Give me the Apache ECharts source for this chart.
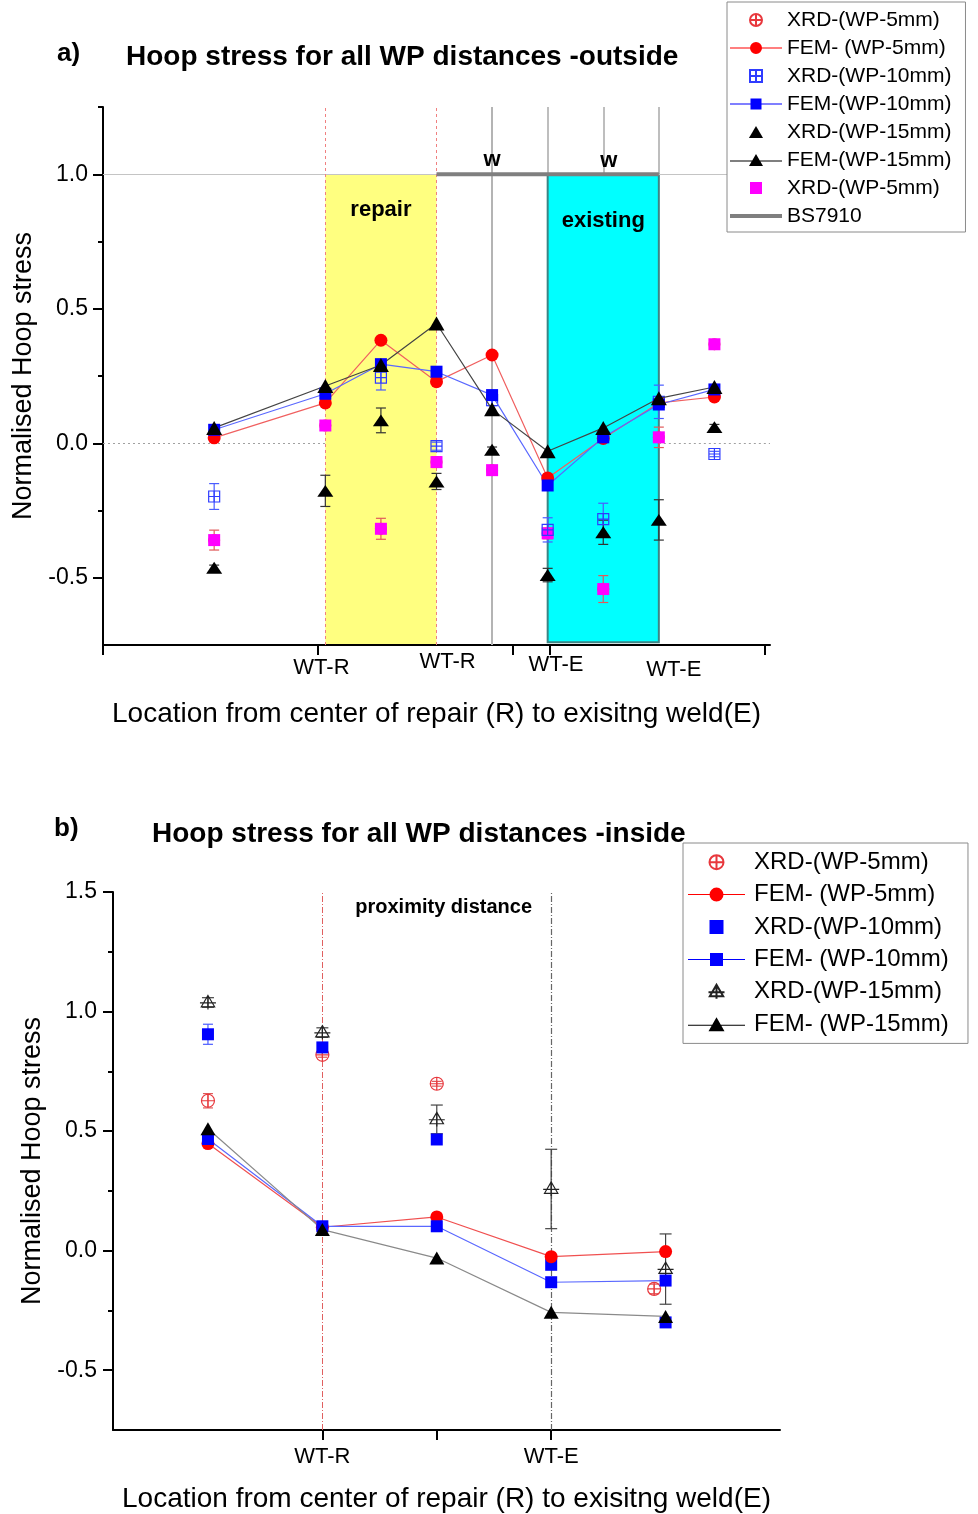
<!DOCTYPE html>
<html><head><meta charset="utf-8">
<script src="https://cdn.jsdelivr.net/npm/echarts@6/dist/echarts.min.js"></script>
<style>html,body{margin:0;padding:0;background:#fff}#c{width:978px;height:1514px}</style>
</head><body><div id="c"></div>
<script>
// ---------- data: panel a (outside) ----------
const topX = [0, 2, 3, 4, 5, 6, 7, 8, 9];
const topFem5  = [0.020, 0.150, 0.383, 0.229, 0.328, -0.129, 0.018, 0.150, 0.172];
const topFem10 = [0.050, 0.184, 0.294, 0.266, 0.179, -0.157, 0.022, 0.144, 0.200];
const topFem15 = [0.057, 0.213, 0.291, 0.445, 0.126, -0.030, 0.057, 0.167, 0.209];
const topXrd5    = [-0.360, 0.066, -0.318, -0.070, -0.100, -0.335, -0.542, 0.022, 0.368];
const topXrd5Err = [0.037, 0.010, 0.039, 0.020, 0.010, 0.020, 0.050, 0.038, 0.015];
const topXrd10    = [-0.198, null, 0.244, -0.011, 0.160, -0.322, -0.282, 0.154, -0.040];
const topXrd10Err = [0.048, null, 0.046, 0.015, 0.020, 0.045, 0.059, 0.062, 0.010];
const topXrd15    = [-0.463, -0.177, 0.085, -0.142, -0.024, -0.490, -0.331, -0.285, 0.060];
const topXrd15Err = [0.010, 0.058, 0.046, 0.030, 0.010, 0.025, 0.045, 0.075, 0.010];
const bs7910X = [4, 8];
const bs7910Y = [1.0, 1.0];
const topTickPos = [-2, 1.87, 5.38, 6.03, 9.9];
const topLabelPos = [1.93, 4.2, 6.15, 8.27];
const topTickLabels = ['WT-R', 'WT-R', 'WT-E', 'WT-E'];
const topYMajor = [-0.5, 0, 0.5, 1.0];
const topYMinor = [-0.25, 0.25, 0.75, 1.25];

// ---------- data: panel b (inside) ----------
const botX = [1, 2, 3, 4, 5];
const botXrdX5 = [1, 2, 3, 4, 4.9];
const botFem5  = [0.448, 0.098, 0.141, -0.025, -0.004];
const botFem10 = [0.467, 0.102, 0.102, -0.132, -0.125];
const botFem15 = [0.510, 0.088, -0.031, -0.258, -0.275];
const botXrd5     = [0.627, 0.819, 0.698, null, -0.160];
const botXrd5Err  = [0.030, 0.010, 0.010, null, 0.020];
const botXrd10    = [0.905, 0.850, 0.465, -0.059, -0.300];
const botXrd10Err = [0.042, 0.015, 0.020, 0.020, 0.010];
const botXrd15    = [1.038, 0.912, 0.549, 0.258, -0.077];
const botXrd15Err = [0.020, 0.020, 0.060, 0.166, 0.147];
const botTickPos = [2, 3, 4];
const botLabelPos = [2, 4];
const botTickLabels = ['WT-R', 'WT-E'];
const botYMajor = [-0.5, 0, 0.5, 1.0, 1.5];
const botYMinor = [-0.25, 0.25, 0.75, 1.25];

// ---------- helpers ----------
const FONT = 'Liberation Sans, Arial, sans-serif';
const SYM_CIRCLE_CROSS = 'path://M10,0 A10,10 0 0,1 10,20 A10,10 0 0,1 10,0 Z M0,10 L20,10 M10,0 L10,20';
const SYM_SQ_GRID = 'path://M0,0 L20,0 L20,20 L0,20 Z M0,10 L20,10 M10,0 L10,20';
const SYM_TRI_CROSS = 'path://M10,0 L20,17 L0,17 Z M-2,11 L22,11 M10,0 L10,21';
const SYM_TRI = 'path://M10,0 L20,17 L0,17 Z';
const SYM_RECT = 'path://M0,0 L20,0 L20,20 L0,20 Z';
// legend icons (line + marker), top legend box 52x12, bottom 57x14
const ICON_T_CIRC = 'path://M0,5.5 H52 V6.5 H0 Z M26,0 A6,6 0 1,1 26,12 A6,6 0 1,1 26,0 Z';
const ICON_T_SQ = 'path://M0,5.5 H52 V6.5 H0 Z M20.5,0.5 H31.5 V11.5 H20.5 Z';
const ICON_T_TRI = 'path://M0,6.5 H52 V7.5 H0 Z M26,0 L33,12 L19,12 Z';
const ICON_T_BS = 'path://M0,0 H52 V4 H0 Z';
const ICON_B_CIRC = 'path://M0,6.5 H57 V7.5 H0 Z M28.5,0 A7,7 0 1,1 28.5,14 A7,7 0 1,1 28.5,0 Z';
const ICON_B_SQ = 'path://M0,6.5 H57 V7.5 H0 Z M22,0.5 H35 V13.5 H22 Z';
const ICON_B_TRI = 'path://M0,7.5 H57 V8.5 H0 Z M28.5,0 L36.5,14 L20.5,14 Z';

function pts(xs, ys) { return xs.map((x, i) => ys[i] == null ? null : [x, ys[i]]).filter(Boolean); }
function errPts(xs, ys, es) { return xs.map((x, i) => (ys[i] == null || es[i] == null) ? null : [x, ys[i] - es[i], ys[i] + es[i]]).filter(Boolean); }
function errSeries(name, xi, yi, data, color, cap) {
  return {
    name: name, type: 'custom', xAxisIndex: xi, yAxisIndex: yi, silent: true, z: 2,
    encode: { x: 0, y: [1, 2] }, data: data,
    renderItem: function (params, api) {
      const x = api.value(0);
      const a = api.coord([x, api.value(1)]);
      const b = api.coord([x, api.value(2)]);
      const st = { stroke: color, lineWidth: 1.2 };
      return { type: 'group', children: [
        { type: 'line', shape: { x1: a[0], y1: a[1], x2: b[0], y2: b[1] }, style: st },
        { type: 'line', shape: { x1: a[0] - cap, y1: a[1], x2: a[0] + cap, y2: a[1] }, style: st },
        { type: 'line', shape: { x1: b[0] - cap, y1: b[1], x2: b[0] + cap, y2: b[1] }, style: st }
      ] };
    }
  };
}
const noLab = { show: false };
const S2 = '  '; // suffix to keep panel-b legend names distinct

const N = {
  tXrd5: 'XRD-(WP-5mm)', tFem5: 'FEM- (WP-5mm)', tXrd10: 'XRD-(WP-10mm)', tFem10: 'FEM-(WP-10mm)',
  tXrd15: 'XRD-(WP-15mm)', tFem15: 'FEM-(WP-15mm)', tXrd5m: 'XRD-(WP-5mm) ', tBs: 'BS7910',
  bXrd5: 'XRD-(WP-5mm)' + S2, bFem5: 'FEM- (WP-5mm)' + S2, bXrd10: 'XRD-(WP-10mm)' + S2,
  bFem10: 'FEM- (WP-10mm)' + S2, bXrd15: 'XRD-(WP-15mm)' + S2, bFem15: 'FEM- (WP-15mm)' + S2
};

const labelRich = {
  a: { fontSize: 22, fontFamily: FONT, color: '#000', padding: [6, 0, 0, 0] },
  b: { fontSize: 22, fontFamily: FONT, color: '#000', padding: [0, 0, 0, 0] },
  c: { fontSize: 22, fontFamily: FONT, color: '#000', padding: [3, 0, 0, 0] },
  d: { fontSize: 22, fontFamily: FONT, color: '#000', padding: [8, 0, 0, 0] }
};
const richKeys = ['a', 'b', 'c', 'd'];

const axisBlack = { show: true, onZero: false, lineStyle: { color: '#000', width: 2 } };

const option = {
  animation: false,
  backgroundColor: '#fff',
  textStyle: { fontFamily: FONT },
  title: [
    { text: 'a)', left: 57, top: 41, padding: 0, textStyle: { fontSize: 26, fontWeight: 'bold', color: '#000', fontFamily: FONT } },
    { text: 'Hoop stress for all WP distances -outside', left: 126, top: 43, padding: 0, textStyle: { fontSize: 28, fontWeight: 'bold', color: '#000', fontFamily: FONT } },
    { text: 'b)', left: 54, top: 816, padding: 0, textStyle: { fontSize: 26, fontWeight: 'bold', color: '#000', fontFamily: FONT } },
    { text: 'Hoop stress for all WP distances -inside', left: 152, top: 820, padding: 0, textStyle: { fontSize: 28, fontWeight: 'bold', color: '#000', fontFamily: FONT } }
  ],
  legend: [
    {
      orient: 'vertical', left: 727, top: 2, padding: [4, 14, 2, 3], itemGap: 0,
      itemWidth: 52, itemHeight: 12, symbolKeepAspect: true,
      borderColor: '#8a8a8a', borderWidth: 1, backgroundColor: '#fff', selectedMode: false,
      textStyle: { fontSize: 21, lineHeight: 28, color: '#000', fontFamily: FONT },
      data: [
        { name: N.tXrd5 }, { name: N.tFem5, icon: ICON_T_CIRC },
        { name: N.tXrd10 }, { name: N.tFem10, icon: ICON_T_SQ },
        { name: N.tXrd15 }, { name: N.tFem15, icon: ICON_T_TRI },
        { name: N.tXrd5m }, { name: N.tBs, icon: ICON_T_BS }
      ]
    },
    {
      orient: 'vertical', left: 683, top: 843, padding: [3, 6, 3, 5], itemGap: 0,
      itemWidth: 57, itemHeight: 14, symbolKeepAspect: true,
      borderColor: '#8a8a8a', borderWidth: 1, backgroundColor: '#fff', selectedMode: false,
      textStyle: { fontSize: 24, lineHeight: 32.4, color: '#000', fontFamily: FONT, padding: [0, 0, 0, 4] },
      data: [
        { name: N.bXrd5 }, { name: N.bFem5, icon: ICON_B_CIRC },
        { name: N.bXrd10 }, { name: N.bFem10, icon: ICON_B_SQ },
        { name: N.bXrd15 }, { name: N.bFem15, icon: ICON_B_TRI }
      ]
    }
  ],
  grid: [
    { left: 103, right: 208, top: 107, bottom: 869 },
    { left: 113, right: 198, top: 892, bottom: 84 }
  ],
  xAxis: [
    {
      type: 'value', gridIndex: 0, min: -2, max: 10,
      axisLine: axisBlack, splitLine: { show: false },
      axisTick: { show: true, customValues: topTickPos, length: 10, lineStyle: { color: '#000', width: 2 } },
      axisLabel: { show: true, customValues: topLabelPos, margin: 6, verticalAlign: 'top',
        formatter: function (v) { const i = topLabelPos.indexOf(v); return '{' + richKeys[i] + '|' + topTickLabels[i] + '}'; },
        rich: labelRich },
      name: 'Location from center of repair (R) to exisitng weld(E)', nameLocation: 'middle', nameGap: 55,
      nameTextStyle: { fontSize: 28, color: '#000', fontFamily: FONT, verticalAlign: 'top' }
    },
    {
      type: 'value', gridIndex: 1, min: 0.17, max: 6,
      axisLine: axisBlack, splitLine: { show: false },
      axisTick: { show: true, customValues: botTickPos, length: 10, lineStyle: { color: '#000', width: 2 } },
      axisLabel: { show: true, customValues: botLabelPos, margin: 16, fontSize: 22, color: '#000',
        formatter: function (v) { return botTickLabels[botLabelPos.indexOf(v)]; } },
      name: 'Location from center of repair (R) to exisitng weld(E)', nameLocation: 'middle', nameGap: 55,
      nameTextStyle: { fontSize: 28, color: '#000', fontFamily: FONT, verticalAlign: 'top' }
    }
  ],
  yAxis: [
    {
      type: 'value', gridIndex: 0, position: 'left', min: -0.75, max: 1.25,
      axisLine: axisBlack, splitLine: { show: false },
      axisTick: { show: true, customValues: topYMajor, length: 10, lineStyle: { color: '#000', width: 2 } },
      axisLabel: { show: true, customValues: topYMajor, margin: 15, fontSize: 23, color: '#000', formatter: v => v.toFixed(1) },
      name: 'Normalised Hoop stress', nameLocation: 'middle', nameGap: 66, nameRotate: 90,
      nameTextStyle: { fontSize: 27, color: '#000', fontFamily: FONT }
    },
    {
      type: 'value', gridIndex: 0, position: 'left', offset: 0, min: -0.75, max: 1.25,
      axisLine: { show: false, onZero: false }, splitLine: { show: false },
      axisTick: { show: true, customValues: topYMinor, length: 5, lineStyle: { color: '#000', width: 2 } },
      axisLabel: { show: false }
    },
    {
      type: 'value', gridIndex: 1, position: 'left', min: -0.75, max: 1.5,
      axisLine: axisBlack, splitLine: { show: false },
      axisTick: { show: true, customValues: botYMajor, length: 10, lineStyle: { color: '#000', width: 2 } },
      axisLabel: { show: true, customValues: botYMajor, margin: 16, fontSize: 23, color: '#000', formatter: v => v.toFixed(1) },
      name: 'Normalised Hoop stress', nameLocation: 'middle', nameGap: 64, nameRotate: 90,
      nameTextStyle: { fontSize: 27, color: '#000', fontFamily: FONT }
    },
    {
      type: 'value', gridIndex: 1, position: 'left', offset: 0, min: -0.75, max: 1.5,
      axisLine: { show: false, onZero: false }, splitLine: { show: false },
      axisTick: { show: true, customValues: botYMinor, length: 5, lineStyle: { color: '#000', width: 2 } },
      axisLabel: { show: false }
    }
  ],
  series: [
    // ---- panel a ----
    {
      name: N.tBs, type: 'line', xAxisIndex: 0, yAxisIndex: 0, z: 3,
      data: pts(bs7910X, bs7910Y), symbol: 'none',
      lineStyle: { color: '#7f7f7f', width: 4 }, itemStyle: { color: '#7f7f7f' },
      markArea: {
        silent: true, z: 0,
        data: [
          [{ xAxis: 2, yAxis: -0.75, itemStyle: { color: '#ffff80' },
             label: { show: true, formatter: 'repair', position: 'insideTop', offset: [0, 20], fontSize: 22, fontWeight: 'bold', color: '#000', fontFamily: FONT } },
           { xAxis: 4, yAxis: 1.0 }],
          [{ xAxis: 6, yAxis: -0.74, itemStyle: { color: '#00ffff', borderColor: '#3b8585', borderWidth: 2 },
             label: { show: true, formatter: 'existing', position: 'insideTop', offset: [0, 32], fontSize: 22, fontWeight: 'bold', color: '#000', fontFamily: FONT } },
           { xAxis: 8, yAxis: 1.0 }]
        ]
      },
      markLine: {
        silent: true, z: 1, symbol: ['none', 'none'], label: noLab,
        data: [
          { yAxis: 1.0, lineStyle: { color: '#c4c4c4', width: 1, type: 'solid' } },
          [{ coord: [-2, 0], lineStyle: { color: '#a0a0a0', width: 1, type: [2, 3] } }, { coord: [2, 0] }],
          [{ coord: [8, 0], lineStyle: { color: '#a0a0a0', width: 1, type: [2, 3] } }, { coord: [10, 0] }],
          { xAxis: 2, lineStyle: { color: '#f08080', width: 1, type: [3, 3] } },
          { xAxis: 4, lineStyle: { color: '#f08080', width: 1, type: [3, 3] } },
          { xAxis: 5, lineStyle: { color: '#b4b4b4', width: 2, type: 'solid' } },
          [{ coord: [6, 1.0], lineStyle: { color: '#a8a8a8', width: 1.5, type: 'solid' } }, { coord: [6, 1.25] }],
          [{ coord: [7, 1.0], lineStyle: { color: '#a8a8a8', width: 1.5, type: 'solid' } }, { coord: [7, 1.25] }],
          [{ coord: [8, 1.0], lineStyle: { color: '#a8a8a8', width: 1.5, type: 'solid' } }, { coord: [8, 1.25] }]
        ]
      },
      markPoint: {
        silent: true, symbol: 'circle', symbolSize: 1, itemStyle: { color: 'rgba(0,0,0,0)' },
        label: { show: true, position: 'inside', fontSize: 22, fontWeight: 'bold', color: '#000', fontFamily: FONT },
        data: [
          { coord: [5, 1.055], label: { formatter: 'w' } },
          { coord: [7.1, 1.048], label: { formatter: 'w' } }
        ]
      }
    },
    {
      name: N.tXrd5, type: 'scatter', xAxisIndex: 0, yAxisIndex: 0,
      data: pts(topX, topXrd5), symbol: SYM_CIRCLE_CROSS, symbolSize: 11, symbolKeepAspect: true,
      itemStyle: { color: 'rgba(255,255,255,0)', borderColor: '#e8383d', borderWidth: 1, opacity: 1 }
    },
    errSeries('e1', 0, 0, errPts(topX, topXrd5, topXrd5Err), '#e05a5a', 5),
    {
      name: N.tXrd5m, type: 'scatter', xAxisIndex: 0, yAxisIndex: 0,
      data: pts(topX, topXrd5), symbol: SYM_RECT, symbolSize: 12, symbolKeepAspect: true,
      itemStyle: { color: '#ff00ff', opacity: 1 }
    },
    errSeries('e2', 0, 0, errPts(topX, topXrd10, topXrd10Err), '#4a5cff', 5),
    {
      name: N.tXrd10, type: 'scatter', xAxisIndex: 0, yAxisIndex: 0,
      data: pts(topX, topXrd10), symbol: SYM_SQ_GRID, symbolSize: 11, symbolKeepAspect: true,
      itemStyle: { color: 'rgba(255,255,255,0)', borderColor: '#2f3cff', borderWidth: 1.2, opacity: 1 }
    },
    errSeries('e3', 0, 0, errPts(topX, topXrd15, topXrd15Err), '#333333', 5),
    {
      name: N.tXrd15, type: 'scatter', xAxisIndex: 0, yAxisIndex: 0,
      data: pts(topX, topXrd15), symbol: SYM_TRI, symbolSize: [16, 14], symbolKeepAspect: true,
      itemStyle: { color: '#000', opacity: 1 }
    },
    {
      name: N.tFem5, type: 'line', xAxisIndex: 0, yAxisIndex: 0,
      data: pts(topX, topFem5), symbol: 'circle', symbolSize: 13, showAllSymbol: true,
      itemStyle: { color: '#ff0000' }, lineStyle: { color: '#f06060', width: 1.2 }
    },
    {
      name: N.tFem10, type: 'line', xAxisIndex: 0, yAxisIndex: 0,
      data: pts(topX, topFem10), symbol: 'rect', symbolSize: 12, showAllSymbol: true,
      itemStyle: { color: '#0000ff' }, lineStyle: { color: '#5a68ff', width: 1.2 }
    },
    {
      name: N.tFem15, type: 'line', xAxisIndex: 0, yAxisIndex: 0,
      data: pts(topX, topFem15), symbol: 'triangle', symbolSize: [16, 14], showAllSymbol: true,
      itemStyle: { color: '#000' }, lineStyle: { color: '#444', width: 1.2 }
    },

    // ---- panel b ----
    errSeries('e4', 1, 2, errPts(botXrdX5, botXrd5, botXrd5Err), '#e05a5a', 5),
    {
      name: N.bXrd5, type: 'scatter', xAxisIndex: 1, yAxisIndex: 2,
      data: pts(botXrdX5, botXrd5), symbol: SYM_CIRCLE_CROSS, symbolSize: 13, symbolKeepAspect: true,
      itemStyle: { color: 'rgba(255,255,255,0)', borderColor: '#e8383d', borderWidth: 1.2, opacity: 1 },
      markLine: {
        silent: true, z: 1, symbol: ['none', 'none'], label: noLab,
        data: [
          { xAxis: 2, lineStyle: { color: '#e06060', width: 1, type: [6, 2, 1, 2] } },
          { xAxis: 4, lineStyle: { color: '#666', width: 1.2, type: [6, 2, 1, 2] } }
        ]
      },
      markPoint: {
        silent: true, symbol: 'circle', symbolSize: 1, itemStyle: { color: 'rgba(0,0,0,0)' },
        label: { show: true, position: 'inside', fontSize: 20, fontWeight: 'bold', color: '#000', fontFamily: FONT },
        data: [{ coord: [3.06, 1.437], label: { formatter: 'proximity distance' } }]
      }
    },
    errSeries('e5', 1, 2, errPts(botX, botXrd10, botXrd10Err), '#4a5cff', 5),
    {
      name: N.bXrd10, type: 'scatter', xAxisIndex: 1, yAxisIndex: 2,
      data: pts(botX, botXrd10), symbol: SYM_RECT, symbolSize: 12, symbolKeepAspect: true,
      itemStyle: { color: '#0000ff', opacity: 1 }
    },
    errSeries('e6', 1, 2, errPts(botX, botXrd15, botXrd15Err), '#444', 6),
    {
      name: N.bXrd15, type: 'scatter', xAxisIndex: 1, yAxisIndex: 2,
      data: pts(botX, botXrd15), symbol: SYM_TRI_CROSS, symbolSize: 16, symbolKeepAspect: true,
      itemStyle: { color: 'rgba(255,255,255,0)', borderColor: '#222', borderWidth: 1.2, opacity: 1 }
    },
    {
      name: N.bFem5, type: 'line', xAxisIndex: 1, yAxisIndex: 2,
      data: pts(botX, botFem5), symbol: 'circle', symbolSize: 13, showAllSymbol: true,
      itemStyle: { color: '#ff0000' }, lineStyle: { color: '#f05050', width: 1.2 }
    },
    {
      name: N.bFem10, type: 'line', xAxisIndex: 1, yAxisIndex: 2,
      data: pts(botX, botFem10), symbol: 'rect', symbolSize: 12, showAllSymbol: true,
      itemStyle: { color: '#0000ff' }, lineStyle: { color: '#5a68ff', width: 1.2 }
    },
    {
      name: N.bFem15, type: 'line', xAxisIndex: 1, yAxisIndex: 2,
      data: pts(botX, botFem15), symbol: 'triangle', symbolSize: [15, 13], showAllSymbol: true,
      itemStyle: { color: '#000' }, lineStyle: { color: '#8a8a8a', width: 1.2 }
    }
  ]
};

const chart = echarts.init(document.getElementById('c'), null, { renderer: 'canvas' });
chart.setOption(option);
</script></body></html>
